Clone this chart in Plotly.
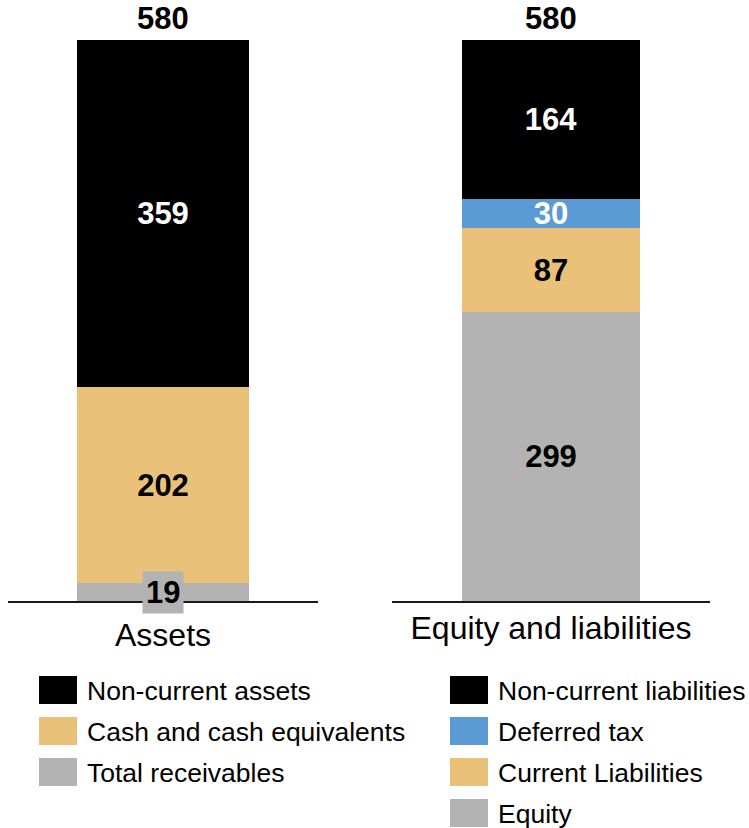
import plotly.graph_objects as go

W, H = 749, 828
FONT = "Liberation Sans, Arial, sans-serif"

categories = ["Assets", "Equity and liabilities"]

# Stacked from the bottom up
asset_names = ["Total receivables", "Cash and cash equivalents", "Non-current assets"]
asset_values = [19, 202, 359]
asset_colors = ["#B3B3B3", "#E9C179", "#000000"]
asset_text_colors = ["#000000", "#000000", "#FFFFFF"]

liab_names = ["Equity", "Current Liabilities", "Deferred tax", "Non-current liabilities"]
liab_values = [299, 87, 30, 164]
liab_colors = ["#B3B3B3", "#E9C179", "#5B9BD5", "#000000"]
liab_text_colors = ["#000000", "#000000", "#FFFFFF", "#FFFFFF"]

# Segments thinner than this get a boxed label instead of inside text
THIN = 25
VAL_SIZE = 31

fig = go.Figure()
annotations = []

stacks = [
    (categories[0], asset_names, asset_values, asset_colors, asset_text_colors, "x", "y", 0.555),
    (categories[1], liab_names, liab_values, liab_colors, liab_text_colors, "x2", "y2", 0.56),
]

for cat, names, values, colors, tcolors, xa, ya, bw in stacks:
    base = 0
    for name, val, col, tc in zip(names, values, colors, tcolors):
        thin = val < THIN
        fig.add_trace(go.Bar(
            x=[cat], y=[val], name=name, xaxis=xa, yaxis=ya,
            marker=dict(color=col, line=dict(width=0)),
            width=bw,
            text=[""] if thin else [str(val)],
            textposition="inside", insidetextanchor="middle",
            textangle=0, constraintext="none",
            textfont=dict(family=FONT, size=VAL_SIZE, color=tc, weight="bold"),
            showlegend=False, hoverinfo="skip",
        ))
        if thin:
            annotations.append(dict(
                x=cat, y=base + val / 2, xref=xa, yref=ya,
                text=f"<b>{val}</b>", showarrow=False,
                font=dict(family=FONT, size=VAL_SIZE, color=tc),
                bgcolor=col, borderpad=3, yshift=-1,
            ))
        base += val
    # total on top of each column
    annotations.append(dict(
        x=cat, y=sum(values), xref=xa, yref=ya,
        text=f"<b>{sum(values)}</b>", showarrow=False,
        yanchor="bottom", yshift=2,
        font=dict(family=FONT, size=VAL_SIZE, color="#000000"),
    ))

# Legend drawn as swatches + labels, two columns
shapes = []
legend_cols = [
    (39, list(zip(asset_names, asset_colors))[::-1]),
    (450, list(zip(liab_names, liab_colors))[::-1]),
]
row_top, row_step, sw_w, sw_h = 676, 41, 38, 28
for x0, items in legend_cols:
    for i, (name, col) in enumerate(items):
        top = row_top + i * row_step
        shapes.append(dict(
            type="rect", xref="paper", yref="paper",
            x0=x0 / W, x1=(x0 + sw_w) / W,
            y0=1 - (top + sw_h) / H, y1=1 - top / H,
            fillcolor=col, line=dict(width=0),
        ))
        annotations.append(dict(
            x=(x0 + sw_w + 8) / W, y=1 - (top + sw_h / 2 + 1) / H,
            xref="paper", yref="paper", xanchor="left", yanchor="middle",
            text=name, showarrow=False,
            font=dict(family=FONT, size=26.5, color="#000000"),
        ))

y_dom = [1 - 601 / H, 1 - 40 / H]
axis_common = dict(
    type="category", range=[-0.5, 0.5], showline=True, linecolor="#1a1a1a",
    linewidth=2, ticks="", showgrid=False, zeroline=False, fixedrange=True,
    tickfont=dict(family=FONT, size=32, color="#000000"), automargin=False,
)

fig.update_layout(
    width=W, height=H,
    margin=dict(l=0, r=0, t=0, b=0),
    paper_bgcolor="white", plot_bgcolor="white",
    barmode="stack", bargap=0,
    showlegend=False,
    xaxis=dict(domain=[8 / W, 318 / W], anchor="y", ticklabelstandoff=5, **axis_common),
    xaxis2=dict(domain=[392 / W, 710 / W], anchor="y2", ticklabelstandoff=-2, **axis_common),
    yaxis=dict(domain=y_dom, range=[0, 580], visible=False, fixedrange=True),
    yaxis2=dict(domain=y_dom, range=[0, 580], visible=False, fixedrange=True, anchor="x2"),
    shapes=shapes,
    annotations=annotations,
    font=dict(family=FONT),
)

fig.write_html("out.html")
